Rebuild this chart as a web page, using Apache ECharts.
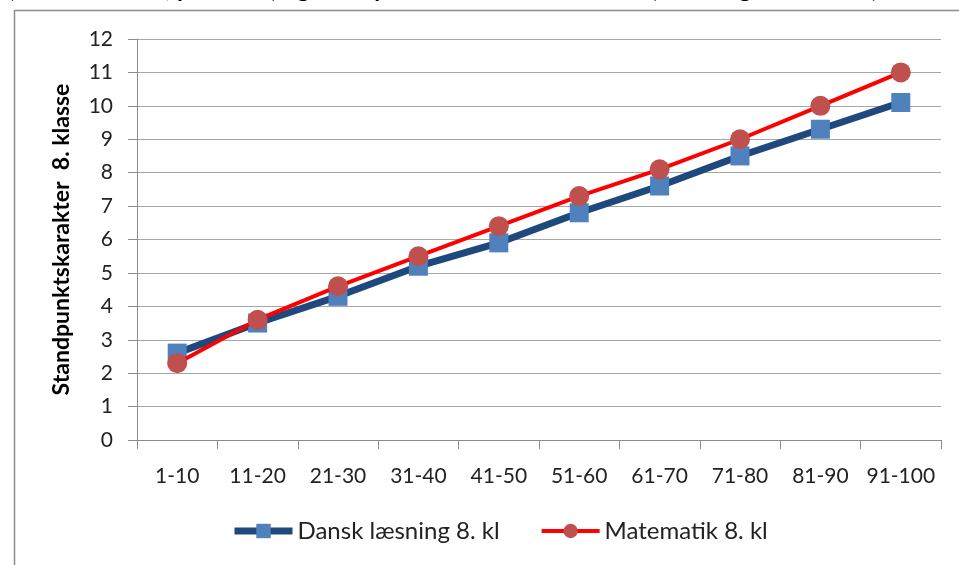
<!DOCTYPE html>
<html>
<head>
<meta charset="utf-8">
<script src="https://cdn.jsdelivr.net/npm/echarts@6/dist/echarts.min.js"></script>
<style>
  html, body { margin: 0; padding: 0; background: #fff; }
  #chart { width: 959px; height: 565px; }
</style>
</head>
<body>
<div id="chart"></div>
<script>
var categories = ['1-10', '11-20', '21-30', '31-40', '41-50', '51-60', '61-70', '71-80', '81-90', '91-100'];
var danskValues = [2.6, 3.5, 4.3, 5.2, 5.9, 6.8, 7.6, 8.5, 9.3, 10.1];
var matValues = [2.3, 3.6, 4.6, 5.5, 6.4, 7.3, 8.1, 9.0, 10.0, 11.0];
var seriesNames = ['Dansk læsning 8. kl', 'Matematik 8. kl'];
var yAxisTitle = 'Standpunktskarakter  8. klasse';
var headingText = '(Nationale test, percentil) og standpunktskarakter i 8. klasse (dansk og matematik)';

var font = 'Lato, "Open Sans", sans-serif';

var option = {
    backgroundColor: '#fff',
    animation: false,
    // heading is cut off by the top edge
    graphic: [{
        type: 'text',
        left: 8,
        top: -23,
        style: { text: headingText, font: 'bold 24px ' + font, fill: '#000' }
    }, {
        type: 'rect',
        shape: { x: 14.5, y: 10.5, width: 960, height: 570 },
        style: { fill: 'none', stroke: '#8c8c8c', lineWidth: 1.5 }
    }],
    legend: {
        bottom: 17,
        left: 226,
        itemWidth: 58,
        itemHeight: 18,
        itemGap: 40,
        textStyle: { fontFamily: font, fontSize: 24, color: '#222' },
        data: [
            { name: seriesNames[0], lineStyle: { width: 7 } },
            { name: seriesNames[1], lineStyle: { width: 4 } }
        ]
    },
    grid: { left: 137, right: 18, top: 39, bottom: 125 },
    xAxis: {
        type: 'category',
        data: categories,
        boundaryGap: true,
        axisLine: { lineStyle: { color: '#8c8c8c', width: 1 } },
        axisTick: { show: true, length: 9, interval: 0, lineStyle: { color: '#8c8c8c' } },
        axisLabel: { interval: 0, fontFamily: font, fontSize: 21, color: '#222', margin: 26 }
    },
    yAxis: {
        type: 'value',
        min: 0,
        max: 12,
        interval: 1,
        name: yAxisTitle,
        nameLocation: 'middle',
        nameGap: 64,
        nameTextStyle: { fontFamily: font, fontSize: 23, fontWeight: 'bold', color: '#000' },
        axisLine: { show: true, lineStyle: { color: '#8c8c8c', width: 1 } },
        axisTick: { show: true, length: 9, lineStyle: { color: '#8c8c8c' } },
        axisLabel: { fontFamily: font, fontSize: 21, color: '#222', margin: 24 },
        splitLine: { lineStyle: { color: '#a6a6a6', width: 1 } }
    },
    series: [{
        name: seriesNames[0],
        type: 'line',
        data: danskValues,
        symbol: 'rect',
        symbolSize: 19,
        lineStyle: { color: '#1f497d', width: 7 },
        itemStyle: { color: '#4f81bd' },
        z: 2
    }, {
        name: seriesNames[1],
        type: 'line',
        data: matValues,
        symbol: 'circle',
        symbolSize: 20,
        lineStyle: { color: '#ff0000', width: 4 },
        itemStyle: { color: '#c0504d' },
        z: 3
    }]
};

var myChart = echarts.init(document.getElementById('chart'));
myChart.setOption(option);
</script>
</body>
</html>
